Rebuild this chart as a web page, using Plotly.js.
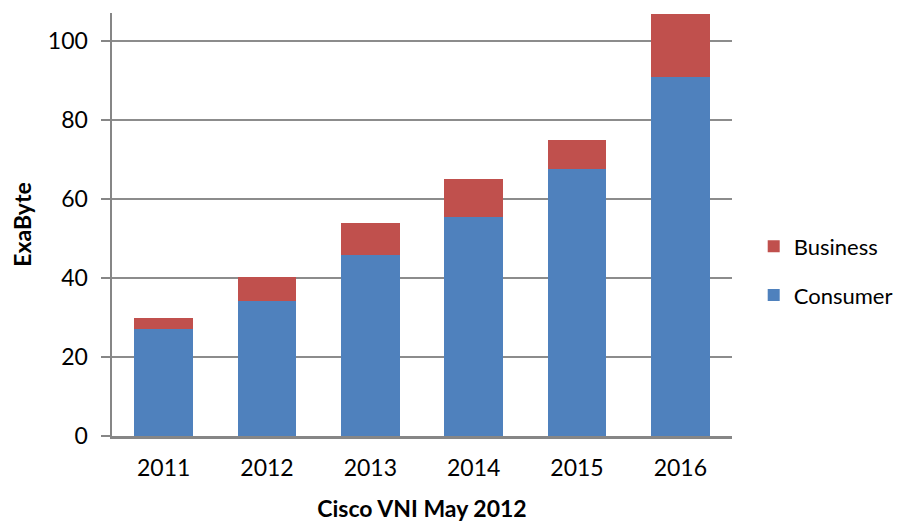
<!DOCTYPE html>
<html>
<head>
<meta charset="utf-8">
<script src="https://cdn.plot.ly/plotly-3.0.1.min.js"></script>
<style>html,body{margin:0;padding:0;background:#fff;}#chart{width:906px;height:522px;}</style>
</head>
<body>
<div id="chart"></div>
<script>
const years = ["2011", "2012", "2013", "2014", "2015", "2016"];
const consumer = [27.1, 34.2, 45.8, 55.4, 67.6, 90.9];
const business = [2.8, 6.1, 8.1, 9.7, 7.3, 15.9];
const yTicks = [0, 20, 40, 60, 80, 100];

const font = "Lato, 'Open Sans', sans-serif";
const data = [
  {type: "bar", name: "Consumer", x: years, y: consumer, legendgroup: "c", legendrank: 2,
   marker: {color: "#4F81BD", line: {width: 0}}},
  {type: "bar", name: "Business", x: years, y: business, legendgroup: "b", legendrank: 1,
   marker: {color: "#C0504D", line: {width: 0}}}
];
const layout = {
  width: 906, height: 522,
  margin: {l: 112, r: 174, t: 13, b: 86, autoexpand: false},
  barmode: "stack", bargap: 0.43,
  paper_bgcolor: "#fff", plot_bgcolor: "#fff",
  font: {family: font, size: 23, color: "#000"},
  xaxis: {
    type: "category", showgrid: false, showline: true, linecolor: "#868686", linewidth: 2.5,
    ticks: "", tickfont: {size: 23}, ticklabelstandoff: 10,
    title: {text: "<b>Cisco VNI May 2012</b>", font: {size: 23}, standoff: 24}
  },
  yaxis: {
    range: [0, 107], tickvals: yTicks, ticktext: yTicks.map(String),
    showgrid: true, gridcolor: "#8c8c8c", gridwidth: 2,
    showline: true, linecolor: "#868686", linewidth: 2.5,
    ticks: "outside", ticklen: 9, tickwidth: 2, tickcolor: "#868686",
    zeroline: false, tickfont: {size: 23}, ticklabelstandoff: 8,
    title: {text: "<b>ExaByte</b>", font: {size: 23}, standoff: 10}
  },
  showlegend: true,
  legend: {x: 1.035, y: 0.39, xanchor: "left", yanchor: "middle",
    traceorder: "grouped", tracegroupgap: 17,
    font: {size: 22}, bgcolor: "rgba(0,0,0,0)"}
};
Plotly.newPlot("chart", data, layout, {displayModeBar: false, staticPlot: true});
</script>
</body>
</html>
